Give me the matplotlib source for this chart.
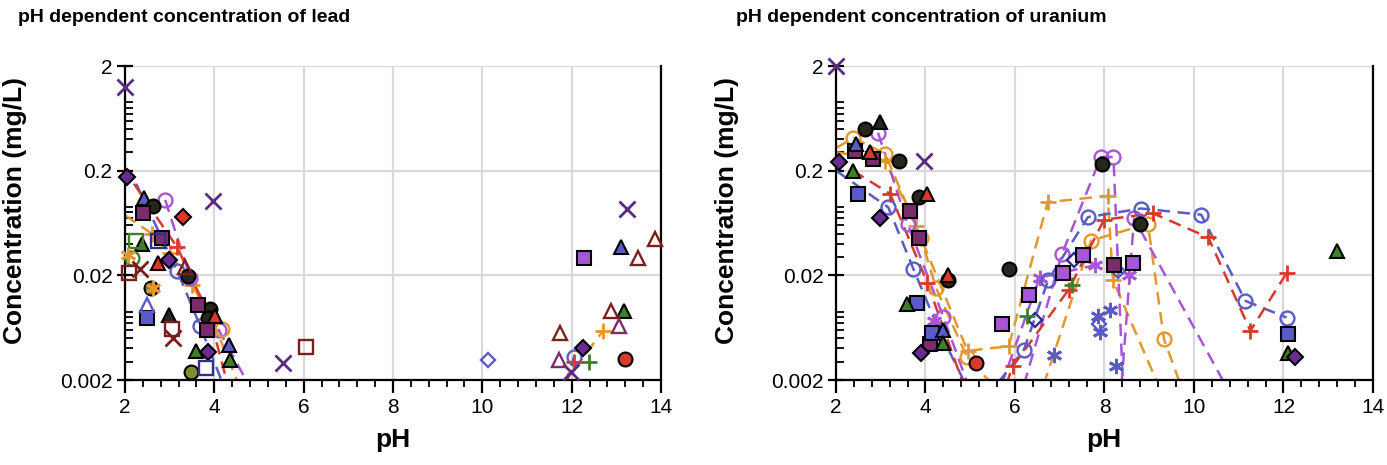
import numpy as np
import matplotlib
matplotlib.use("Agg")
import matplotlib.pyplot as plt
from matplotlib.ticker import LogLocator, MultipleLocator, NullFormatter

plt.rcParams['font.family'] = ['Liberation Sans', 'DejaVu Sans']

"""
Data read off the reference picture (pH, concentration in mg/L)
"""
# ---- lead ----
pb_x_purple_ph = [2.0, 3.97, 5.54, 11.98, 13.23]
pb_x_purple_c = [1.27, 0.103, 0.0029, 0.0024, 0.087]
pb_dia_dpurple_ph = [2.05, 2.99, 3.86, 12.25]
pb_dia_dpurple_c = [0.175, 0.028, 0.0037, 0.004]
pb_dia_red_ph = [3.3]
pb_dia_red_c = [0.072]
pb_tri_blue_ph = [2.43, 4.33, 13.1]
pb_tri_blue_c = [0.11, 0.0043, 0.037]
pb_sq_blue_ph = [2.49]
pb_sq_blue_c = [0.0079]
pb_tri_blue_open_ph = [2.49]
pb_tri_blue_open_c = [0.0105]
pb_circ_black_ph = [2.63, 3.41, 3.9, 3.86]
pb_circ_black_c = [0.092, 0.0195, 0.0095, 0.0079]
pb_circ_olive_ph = [2.58, 3.48]
pb_circ_olive_c = [0.015, 0.0024]
pb_circ_green_open_ph = [2.16]
pb_circ_green_open_c = [0.029]
pb_sq_plum_ph = [2.4, 2.83, 3.64, 3.84]
pb_sq_plum_c = [0.078, 0.045, 0.0105, 0.006]
pb_tri_green_ph = [2.38, 3.6, 4.35, 13.17]
pb_tri_green_c = [0.040, 0.0038, 0.0031, 0.0092]
pb_tri_black_ph = [2.99]
pb_tri_black_c = [0.0084]
pb_tri_red_ph = [2.74, 4.02]
pb_tri_red_c = [0.026, 0.0082]
pb_tri_maroon_open_ph = [3.35, 11.73, 12.87, 13.48, 13.86]
pb_tri_maroon_open_c = [0.024, 0.0056, 0.0092, 0.029, 0.044]
pb_tri_plum_open_ph = [11.71, 13.05]
pb_tri_plum_open_c = [0.0031, 0.0066]
pb_sq_green_open_ph = [2.25]
pb_sq_green_open_c = [0.043]
pb_sq_navy_open_ph = [2.74, 3.82]
pb_sq_navy_open_c = [0.043, 0.0026]
pb_sq_maroon_open_ph = [2.1, 3.05, 6.06]
pb_sq_maroon_open_c = [0.021, 0.0062, 0.0041]
pb_x_maroon_ph = [2.34, 3.08]
pb_x_maroon_c = [0.023, 0.005]
pb_sq_magenta_ph = [12.27]
pb_sq_magenta_c = [0.029]
pb_plus_green_ph = [12.38]
pb_plus_green_c = [0.003]
pb_circ_red_ph = [13.2]
pb_circ_red_c = [0.0032]
pb_dia_blue_open_ph = [10.12]
pb_dia_blue_open_c = [0.0031]
pb_star_orange_ph = [2.07, 2.62]
pb_star_orange_c = [0.031, 0.015]
# dashed series (first point of some is a bare line end)
pb_orange_plus_ph = [2.0, 2.6, 3.0, 3.5, 3.9, 4.55]
pb_orange_plus_c = [0.075, 0.05, 0.033, 0.016, 0.0085, 0.0018]
pb_orange_plus2_ph = [11.8, 12.7]
pb_orange_plus2_c = [0.0018, 0.0059]
pb_orange_circ_ph = [4.18]
pb_orange_circ_c = [0.0062]
pb_purple_circ_ph = [2.9, 3.46, 4.1, 4.8]
pb_purple_circ_c = [0.105, 0.019, 0.006, 0.0017]
pb_blue_circ_ph = [2.25, 3.17, 3.68, 4.2]
pb_blue_circ_c = [0.15, 0.022, 0.0066, 0.0018]
pb_blue_circ2_ph = [11.85, 12.05]
pb_blue_circ2_c = [0.0018, 0.0033]
pb_red_plus_ph = [2.2, 3.17, 3.9, 4.3]
pb_red_plus_c = [0.15, 0.037, 0.008, 0.0018]
pb_red_plus2_ph = [11.85, 12.05]
pb_red_plus2_c = [0.0018, 0.003]

# ---- uranium ----
u_x_purple_ph = [2.0, 3.97]
u_x_purple_c = [2.0, 0.25]
u_circ_black_ph = [2.65, 3.41, 3.86, 4.51, 5.86, 7.94, 8.8]
u_circ_black_c = [0.5, 0.25, 0.113, 0.018, 0.023, 0.23, 0.062]
u_tri_black_ph = [2.99]
u_tri_black_c = [0.58]
u_sq_plum_ph = [2.43, 2.83, 3.66, 3.86, 4.1, 8.21]
u_sq_plum_c = [0.31, 0.26, 0.083, 0.045, 0.0044, 0.025]
u_sq_blue_ph = [2.49, 3.82, 4.15, 12.09]
u_sq_blue_c = [0.12, 0.011, 0.0056, 0.0055]
u_tri_blue_ph = [2.45, 4.38]
u_tri_blue_c = [0.36, 0.006]
u_tri_green_ph = [2.38, 3.59, 4.4, 12.11, 13.19]
u_tri_green_c = [0.2, 0.0107, 0.0045, 0.0036, 0.034]
u_tri_red_ph = [2.76, 4.04, 4.51]
u_tri_red_c = [0.3, 0.12, 0.02]
u_dia_dpurple_ph = [2.07, 2.99, 3.89, 12.25]
u_dia_dpurple_c = [0.24, 0.071, 0.0036, 0.0033]
u_circ_red_ph = [5.12]
u_circ_red_c = [0.0029]
u_sq_magenta_ph = [5.72, 6.31, 7.07, 7.52, 8.64]
u_sq_magenta_c = [0.0069, 0.013, 0.021, 0.031, 0.026]
u_plus_green_ph = [6.26, 7.27]
u_plus_green_c = [0.0081, 0.016]
u_dia_navy_open_ph = [6.44, 7.31]
u_dia_navy_open_c = [0.0075, 0.028]
u_dia_blue_open_ph = [7.87, 8.3]
u_dia_blue_open_c = [0.0069, 0.022]
u_star_blue_ph = [6.87, 7.85, 8.12, 7.9, 8.26]
u_star_blue_c = [0.0035, 0.0081, 0.0094, 0.0057, 0.0027]
u_star_purple_ph = [4.18, 8.55]
u_star_purple_c = [0.0074, 0.020]
# dashed series
u_star_purple_line_ph = [5.7, 6.55, 7.79]
u_star_purple_line_c = [0.0018, 0.019, 0.025]
u_purple_circ_a_ph = [2.94, 3.6, 4.4, 4.95]
u_purple_circ_a_c = [0.46, 0.062, 0.008, 0.0018]
u_purple_circ_b_ph = [6.2, 7.05, 7.92, 8.2, 8.42]
u_purple_circ_b_c = [0.0018, 0.032, 0.27, 0.27, 0.0015]
u_purple_circ_c_ph = [8.38, 8.66, 10.7]
u_purple_circ_c_c = [0.0018, 0.07, 0.0018]
u_blue_circ_a_ph = [2.0, 3.17, 3.73, 4.3, 4.9]
u_blue_circ_a_c = [0.2, 0.089, 0.023, 0.006, 0.0018]
u_blue_circ_b_ph = [5.63, 6.2, 6.74, 7.63, 8.82, 10.16, 11.15, 12.07]
u_blue_circ_b_c = [0.0019, 0.0039, 0.018, 0.072, 0.087, 0.076, 0.0114, 0.0079]
u_red_plus_a_ph = [2.38, 3.21, 4.04, 4.85]
u_red_plus_a_c = [0.2, 0.12, 0.017, 0.0018]
u_red_plus_b_ph = [5.8, 5.95, 7.2, 7.99, 9.09, 10.32, 11.26, 12.07]
u_red_plus_b_c = [0.0018, 0.0027, 0.0146, 0.068, 0.078, 0.046, 0.0059, 0.021]
u_orange_circ_a_ph = [2.0, 2.39, 3.1, 3.9, 4.24, 4.93, 5.5]
u_orange_circ_a_c = [0.33, 0.41, 0.29, 0.045, 0.015, 0.0033, 0.0018]
u_orange_circ_b_ph = [6.64, 7.7, 8.97, 9.33, 9.7]
u_orange_circ_b_c = [0.0018, 0.043, 0.062, 0.0049, 0.0018]
u_orange_plus_ph = [2.0, 3.1, 3.79, 4.94, 5.86, 6.73, 8.07, 8.19, 9.2]
u_orange_plus_c = [0.3, 0.25, 0.059, 0.0038, 0.0042, 0.1, 0.115, 0.018, 0.0018]

"""
Styles
"""
PURPLE = '#5C2A80'
DPURPLE = '#6A2C91'
RED = '#D9392A'
BLUE = '#5B5BC8'
NAVY = '#2F2F8F'
PLUM = '#7B2D6B'
GREEN = '#3F7F26'
OLIVE = '#7D8C2C'
BLACK = '#25261C'
ORANGE = '#E3982E'
MAGENTA = '#A855D6'
MAROON = '#7A1E1E'
ASTER = (6, 2, 0)


def filled(marker, color, ms=10):
    return dict(marker=marker, ms=ms, mfc=color, mec='black', mew=1.5, ls='none')


def hollow(marker, color, ms=10):
    return dict(marker=marker, ms=ms, mfc='none', mec=color, mew=1.7, ls='none')


def thin(marker, color, ms=11):
    return dict(marker=marker, ms=ms, color=color, mew=2.0, ls='none')


def dashed(style, color):
    s = dict(style)
    s.update(ls=(0, (5, 3)), color=color, lw=1.8)
    return s


def draw(ax, ph, conc, style, bare=0):
    ph = np.asarray(ph, float)
    conc = np.asarray(conc, float)
    if style.get('ls', 'none') != 'none':
        ax.plot(ph, conc, ls=style['ls'], color=style['color'], lw=style['lw'], zorder=2)
    keep = conc >= 0.002
    keep[:bare] = False
    mk = {k: v for k, v in style.items() if k not in ('ls', 'lw')}
    ax.plot(ph[keep], conc[keep], ls='none', clip_on=False, zorder=3, **mk)


def setup(ax):
    ax.set_yscale('log')
    ax.set_xlim(2, 14)
    ax.set_ylim(0.002, 2)
    ax.set_xticks(range(2, 15, 2))
    ax.set_xticklabels([str(v) for v in range(2, 15, 2)])
    ax.set_yticks([0.002, 0.02, 0.2, 2])
    ax.set_yticklabels(['0.002', '0.02', '0.2', '2'])
    ax.xaxis.set_minor_locator(MultipleLocator(0.4))
    ax.yaxis.set_minor_locator(LogLocator(base=10, subs=range(2, 10)))
    ax.yaxis.set_minor_formatter(NullFormatter())
    ax.grid(True, which='major', color='#D9D9D9', lw=1.6)
    ax.set_axisbelow(True)
    ax.spines['top'].set_visible(False)
    for s in ('left', 'bottom', 'right'):
        ax.spines[s].set_linewidth(1.6)
        ax.spines[s].set_color('black')
    ax.tick_params(axis='x', which='major', direction='out', length=9, width=1.6,
                   labelsize=15, pad=4)
    ax.tick_params(axis='x', which='minor', direction='out', length=5, width=1.3)
    ax.tick_params(axis='y', which='major', direction='inout', length=12, width=1.6,
                   labelsize=15, pad=3)
    ax.tick_params(axis='y', which='minor', direction='in', length=6, width=1.3)


fig = plt.figure(figsize=(13.87, 4.65), dpi=100)
ax1 = fig.add_axes([125 / 1387, 85 / 465, 536 / 1387, 314 / 465])
ax2 = fig.add_axes([836 / 1387, 85 / 465, 537 / 1387, 314 / 465])
setup(ax1)
setup(ax2)

# lead panel
draw(ax1, pb_orange_plus_ph, pb_orange_plus_c, dashed(thin('+', ORANGE), ORANGE), bare=1)
draw(ax1, pb_orange_plus2_ph, pb_orange_plus2_c, dashed(thin('+', ORANGE), ORANGE))
draw(ax1, pb_purple_circ_ph, pb_purple_circ_c, dashed(hollow('o', MAGENTA), MAGENTA))
draw(ax1, pb_blue_circ_ph, pb_blue_circ_c, dashed(hollow('o', BLUE), BLUE), bare=1)
draw(ax1, pb_blue_circ2_ph, pb_blue_circ2_c, dashed(hollow('o', BLUE), BLUE))
draw(ax1, pb_red_plus_ph, pb_red_plus_c, dashed(thin('+', RED), RED), bare=1)
draw(ax1, pb_red_plus2_ph, pb_red_plus2_c, dashed(thin('+', RED), RED))
draw(ax1, pb_orange_circ_ph, pb_orange_circ_c, hollow('o', ORANGE))
draw(ax1, pb_x_purple_ph, pb_x_purple_c, thin('x', PURPLE))
draw(ax1, pb_dia_dpurple_ph, pb_dia_dpurple_c, filled('D', DPURPLE, 8))
draw(ax1, pb_dia_red_ph, pb_dia_red_c, filled('D', RED, 8))
draw(ax1, pb_tri_blue_ph, pb_tri_blue_c, filled('^', BLUE))
draw(ax1, pb_sq_blue_ph, pb_sq_blue_c, filled('s', BLUE))
draw(ax1, pb_tri_blue_open_ph, pb_tri_blue_open_c, hollow('^', BLUE))
draw(ax1, pb_circ_black_ph, pb_circ_black_c, filled('o', BLACK))
draw(ax1, pb_circ_olive_ph, pb_circ_olive_c, filled('o', OLIVE))
draw(ax1, pb_circ_green_open_ph, pb_circ_green_open_c, hollow('o', GREEN))
draw(ax1, pb_sq_plum_ph, pb_sq_plum_c, filled('s', PLUM))
draw(ax1, pb_tri_green_ph, pb_tri_green_c, filled('^', GREEN))
draw(ax1, pb_tri_black_ph, pb_tri_black_c, filled('^', BLACK))
draw(ax1, pb_tri_red_ph, pb_tri_red_c, filled('^', RED))
draw(ax1, pb_tri_maroon_open_ph, pb_tri_maroon_open_c, hollow('^', MAROON))
draw(ax1, pb_tri_plum_open_ph, pb_tri_plum_open_c, hollow('^', PLUM))
draw(ax1, pb_sq_green_open_ph, pb_sq_green_open_c, hollow('s', GREEN))
draw(ax1, pb_sq_navy_open_ph, pb_sq_navy_open_c, hollow('s', NAVY))
draw(ax1, pb_sq_maroon_open_ph, pb_sq_maroon_open_c, hollow('s', MAROON))
draw(ax1, pb_x_maroon_ph, pb_x_maroon_c, thin('x', MAROON))
draw(ax1, pb_sq_magenta_ph, pb_sq_magenta_c, filled('s', MAGENTA))
draw(ax1, pb_plus_green_ph, pb_plus_green_c, thin('+', GREEN))
draw(ax1, pb_circ_red_ph, pb_circ_red_c, filled('o', RED))
draw(ax1, pb_dia_blue_open_ph, pb_dia_blue_open_c, hollow('D', BLUE, 7.5))
draw(ax1, pb_star_orange_ph, pb_star_orange_c, thin(ASTER, ORANGE))

# uranium panel
draw(ax2, u_orange_circ_a_ph, u_orange_circ_a_c, dashed(hollow('o', ORANGE), ORANGE), bare=1)
draw(ax2, u_orange_circ_b_ph, u_orange_circ_b_c, dashed(hollow('o', ORANGE), ORANGE))
draw(ax2, u_orange_plus_ph, u_orange_plus_c, dashed(thin('+', ORANGE), ORANGE), bare=1)
draw(ax2, u_purple_circ_a_ph, u_purple_circ_a_c, dashed(hollow('o', MAGENTA), MAGENTA))
draw(ax2, u_purple_circ_b_ph, u_purple_circ_b_c, dashed(hollow('o', MAGENTA), MAGENTA))
draw(ax2, u_purple_circ_c_ph, u_purple_circ_c_c, dashed(hollow('o', MAGENTA), MAGENTA))
draw(ax2, u_star_purple_line_ph, u_star_purple_line_c, dashed(thin(ASTER, MAGENTA), MAGENTA))
draw(ax2, u_blue_circ_a_ph, u_blue_circ_a_c, dashed(hollow('o', BLUE), BLUE), bare=1)
draw(ax2, u_blue_circ_b_ph, u_blue_circ_b_c, dashed(hollow('o', BLUE), BLUE))
draw(ax2, u_red_plus_a_ph, u_red_plus_a_c, dashed(thin('+', RED), RED), bare=1)
draw(ax2, u_red_plus_b_ph, u_red_plus_b_c, dashed(thin('+', RED), RED))
draw(ax2, u_star_purple_ph, u_star_purple_c, thin(ASTER, MAGENTA))
draw(ax2, u_star_blue_ph, u_star_blue_c, thin(ASTER, BLUE))
draw(ax2, u_dia_navy_open_ph, u_dia_navy_open_c, hollow('D', NAVY, 7.5))
draw(ax2, u_dia_blue_open_ph, u_dia_blue_open_c, hollow('D', BLUE, 7.5))
draw(ax2, u_x_purple_ph, u_x_purple_c, thin('x', PURPLE))
draw(ax2, u_circ_black_ph, u_circ_black_c, filled('o', BLACK))
draw(ax2, u_tri_black_ph, u_tri_black_c, filled('^', BLACK))
draw(ax2, u_sq_plum_ph, u_sq_plum_c, filled('s', PLUM))
draw(ax2, u_sq_blue_ph, u_sq_blue_c, filled('s', BLUE))
draw(ax2, u_tri_blue_ph, u_tri_blue_c, filled('^', BLUE))
draw(ax2, u_tri_green_ph, u_tri_green_c, filled('^', GREEN))
draw(ax2, u_tri_red_ph, u_tri_red_c, filled('^', RED))
draw(ax2, u_dia_dpurple_ph, u_dia_dpurple_c, filled('D', DPURPLE, 8))
draw(ax2, u_circ_red_ph, u_circ_red_c, filled('o', RED))
draw(ax2, u_sq_magenta_ph, u_sq_magenta_c, filled('s', MAGENTA))
draw(ax2, u_plus_green_ph, u_plus_green_c, thin('+', GREEN))

# titles and axis labels
fig.text(18 / 1387, 1 - 17 / 465, 'pH dependent concentration of lead',
         fontsize=14, fontweight='bold', ha='left', va='center')
fig.text(736 / 1387, 1 - 17 / 465, 'pH dependent concentration of uranium',
         fontsize=14, fontweight='bold', ha='left', va='center')
for xc in (15, 727):
    fig.text(xc / 1387, 1 - 210 / 465, 'Concentration (mg/L)', rotation=90,
             fontsize=19, fontweight='bold', ha='center', va='center')
for xc in (393, 1104):
    fig.text(xc / 1387, 1 - 440 / 465, 'pH', fontsize=19, fontweight='bold',
             ha='center', va='center')

fig.savefig('out.png', dpi=100)
plt.close(fig)
